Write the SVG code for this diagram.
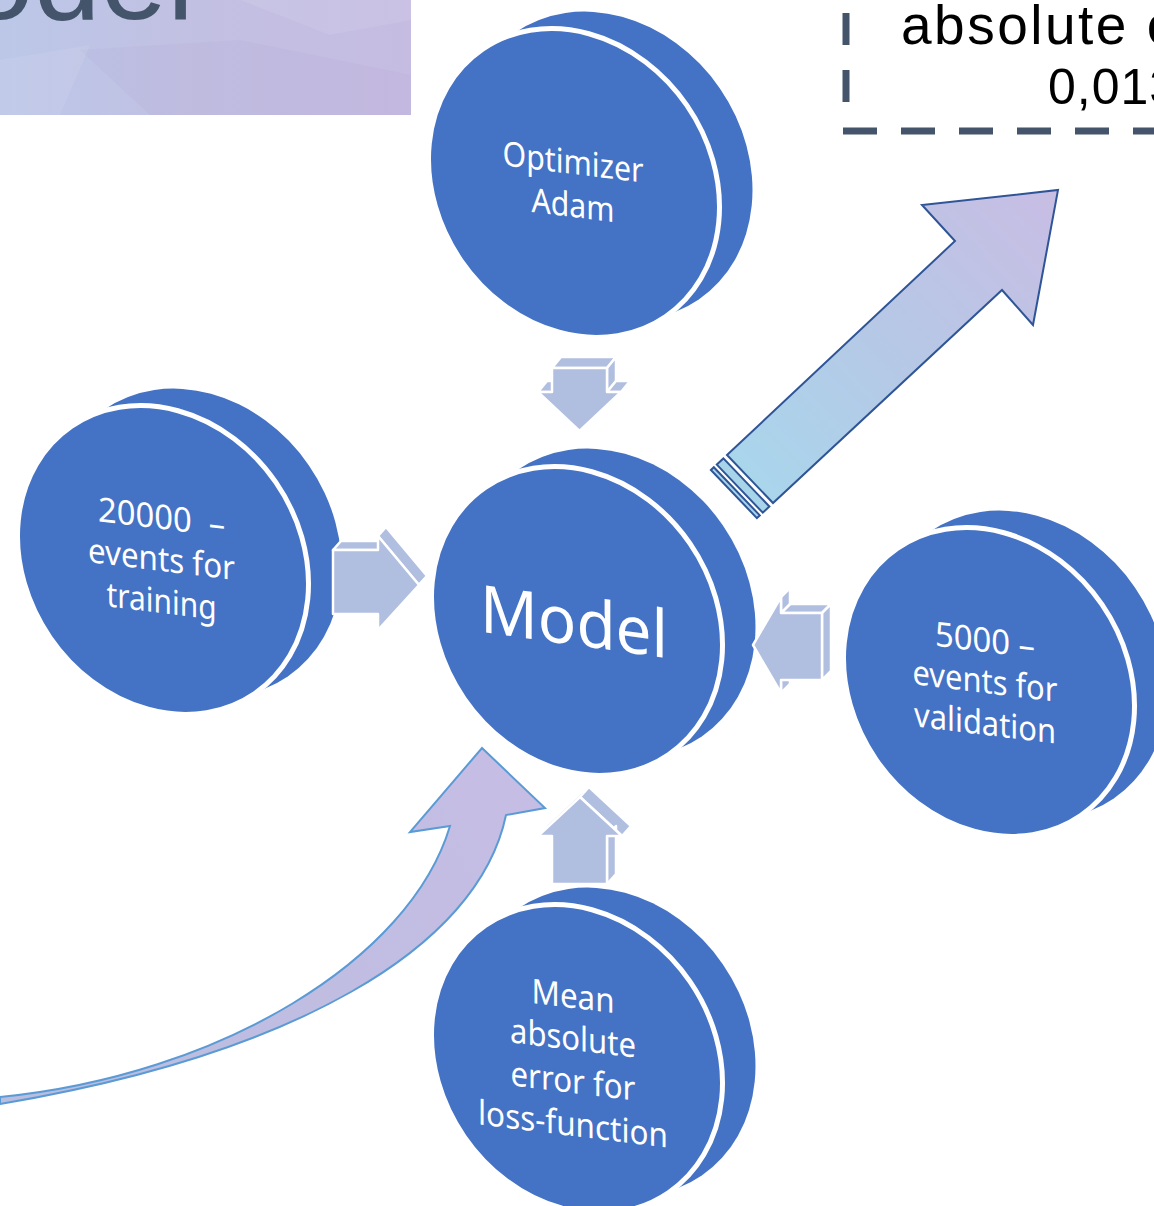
<svg xmlns="http://www.w3.org/2000/svg" xmlns:xlink="http://www.w3.org/1999/xlink" width="1154" height="1206" viewBox="0 0 1154 1206">
  <defs>
    <style>
      .disc-back{fill:#4472C4}
      .disc-front{fill:#4472C4;stroke:#FFFFFF;stroke-width:5}
      .disc-label{fill:#FFFFFF;font-family:"Noto Sans","Open Sans",sans-serif;font-size:34px;text-anchor:middle}
      .disc-title{fill:#FFFFFF;font-family:"Noto Sans","Open Sans",sans-serif;font-size:66px;text-anchor:middle}
      .block{fill:#B0BEE0}
      .block-face{fill:#B0BEE0;stroke:#FFFFFF;stroke-width:2.5;stroke-linejoin:round}
      .note-dash{fill:none;stroke:#44546A;stroke-width:7}
      .note-text{fill:#000000;font-family:"Liberation Sans",Arial,sans-serif}
    </style>
    <!-- tilted disc face, shared by every node -->
    <ellipse id="disc-face" cx="0" cy="0" rx="137" ry="162" transform="rotate(-34.5)"/>
    <linearGradient id="banner-fill" x1="0" y1="0" x2="1" y2="0">
      <stop offset="0" stop-color="#BCC7E8"/>
      <stop offset="0.5" stop-color="#C2C0E2"/>
      <stop offset="1" stop-color="#C6BCE2"/>
    </linearGradient>
    <linearGradient id="out-fill" gradientUnits="userSpaceOnUse" x1="745" y1="485" x2="1045" y2="205">
      <stop offset="0" stop-color="#A9D6EC"/>
      <stop offset="0.5" stop-color="#B6C8E6"/>
      <stop offset="1" stop-color="#C7BEE4"/>
    </linearGradient>
    <linearGradient id="loop-fill" gradientUnits="userSpaceOnUse" x1="0" y1="1100" x2="500" y2="780">
      <stop offset="0" stop-color="#B9BDDF"/>
      <stop offset="1" stop-color="#C6BDE4"/>
    </linearGradient>
  </defs>

  <rect width="1154" height="1206" fill="#FFFFFF"/>

  <!-- heading banner -->
  <g id="title">
    <rect x="0" y="0" width="411" height="115" fill="url(#banner-fill)"/>
    <polygon points="80,50 240,40 411,75 411,115 150,115" fill="#A99FCB" opacity="0.12"/>
    <polygon points="0,60 90,45 60,115 0,115" fill="#FFFFFF" opacity="0.08"/>
    <polygon points="240,0 330,35 411,20 411,0" fill="#FFFFFF" opacity="0.08"/>
    <text x="194" y="19" text-anchor="end" font-family="'Liberation Sans',Arial,sans-serif" font-size="120" fill="#44546A">Model</text>
  </g>

  <!-- result note with dashed frame -->
  <g id="result-note">
    <line class="note-dash" x1="846" y1="102" x2="846" y2="-10" stroke-dasharray="32 25"/>
    <line class="note-dash" x1="843" y1="131" x2="1160" y2="131" stroke-dasharray="34 24"/>
    <text class="note-text" x="901" y="44" font-size="55" letter-spacing="2.5">absolute e</text>
    <text class="note-text" x="1048" y="104" font-size="50" letter-spacing="1">0,013</text>
  </g>

  <!-- nodes -->
  <g id="node-optimizer" transform="translate(574,183)">
    <use xlink:href="#disc-face" class="disc-back" x="33" y="-17"/>
    <use xlink:href="#disc-face" class="disc-front"/>
    <g transform="translate(-1,0) skewY(7)">
      <text class="disc-label" x="0" y="-9" textLength="141" lengthAdjust="spacingAndGlyphs">Optimizer</text>
      <text class="disc-label" x="0" y="34" textLength="83" lengthAdjust="spacingAndGlyphs">Adam</text>
    </g>
  </g>

  <g id="node-training" transform="translate(163,560)">
    <use xlink:href="#disc-face" class="disc-back" x="33" y="-17"/>
    <use xlink:href="#disc-face" class="disc-front"/>
    <g transform="translate(-1.5,0) skewY(7)">
      <text class="disc-label" x="0" y="-31" xml:space="preserve" textLength="127" lengthAdjust="spacingAndGlyphs">20000  –</text>
      <text class="disc-label" x="0" y="11" textLength="147" lengthAdjust="spacingAndGlyphs">events for</text>
      <text class="disc-label" x="0" y="53" textLength="110" lengthAdjust="spacingAndGlyphs">training</text>
    </g>
  </g>

  <g id="node-validation" transform="translate(989,682)">
    <use xlink:href="#disc-face" class="disc-back" x="33" y="-17"/>
    <use xlink:href="#disc-face" class="disc-front"/>
    <g transform="translate(-4,0) skewY(7)">
      <text class="disc-label" x="0" y="-30" textLength="100" lengthAdjust="spacingAndGlyphs">5000 –</text>
      <text class="disc-label" x="0" y="11" textLength="145" lengthAdjust="spacingAndGlyphs">events for</text>
      <text class="disc-label" x="0" y="53" textLength="142" lengthAdjust="spacingAndGlyphs">validation</text>
    </g>
  </g>

  <g id="node-loss" transform="translate(577,1059)">
    <use xlink:href="#disc-face" class="disc-back" x="33" y="-17"/>
    <use xlink:href="#disc-face" class="disc-front"/>
    <g transform="translate(-4,0) skewY(7)">
      <text class="disc-label" x="0" y="-51" textLength="83" lengthAdjust="spacingAndGlyphs">Mean</text>
      <text class="disc-label" x="0" y="-9" textLength="126" lengthAdjust="spacingAndGlyphs">absolute</text>
      <text class="disc-label" x="0" y="34" textLength="125" lengthAdjust="spacingAndGlyphs">error for</text>
      <text class="disc-label" x="0" y="77" textLength="190" lengthAdjust="spacingAndGlyphs">loss-function</text>
    </g>
  </g>

  <g id="node-model" transform="translate(577,621)">
    <use xlink:href="#disc-face" class="disc-back" x="33" y="-18"/>
    <use xlink:href="#disc-face" class="disc-front"/>
    <g transform="translate(-3,0) skewY(8)">
      <text class="disc-title" x="0" y="24" textLength="188" lengthAdjust="spacingAndGlyphs">Model</text>
    </g>
  </g>

  <!-- connectors -->
  <g id="connectors">
    <!-- optimizer -> model (pointing down) -->
    <g id="edge-optimizer-model">
      <polygon class="block" points="561,357 616,357 616,381 630,381 588.5,420 547,381 561,381"/>
      <polygon class="block-face" points="552,368 607,368 616,357 561,357"/>
      <polygon class="block-face" points="607,368 616,357 616,381 607,392"/>
      <polygon class="block-face" points="607,392 621,392 630,381 616,381"/>
      <polygon class="block-face" points="538,392 552,392 561,381 547,381"/>
      <polygon class="block-face" points="552,368 607,368 607,392 621,392 579.5,431 538,392 552,392"/>
    </g>
    <!-- training -> model (pointing right) -->
    <g id="edge-training-model">
      <polygon class="block" points="341,541 386,541 386,527 427,576 386,621 386,605 341,605"/>
      <polygon class="block-face" points="333,550 378,550 386,541 341,541"/>
      <polygon class="block-face" points="378,536 419,585 427,576 386,527"/>
      <polygon class="block-face" points="419,585 378,630 386,621 427,576"/>
      <polygon class="block-face" points="333,550 378,550 378,536 419,585 378,630 378,614 333,614"/>
    </g>
    <!-- validation -> model (pointing left) -->
    <g id="edge-validation-model">
      <polygon class="block" points="831,604 790,604 790,588 762,636 790,684 790,671 831,671"/>
      <polygon class="block-face" points="781,613 822,613 831,604 790,604"/>
      <polygon class="block-face" points="822,613 831,604 831,671 822,680"/>
      <polygon class="block-face" points="781,597 781,613 790,604 790,588"/>
      <polygon class="block-face" points="781,680 781,693 790,684 790,671"/>
      <polygon class="block-face" points="822,613 781,613 781,597 753,645 781,693 781,680 822,680"/>
    </g>
    <!-- loss -> model (pointing up) -->
    <g id="edge-loss-model">
      <polygon class="block" points="589,787 631,826 616,826 616,874 561,874 561,826 547,826"/>
      <polygon class="block-face" points="580,797 622,836 631,826 589,787"/>
      <polygon class="block-face" points="607,836 607,884 616,874 616,826"/>
      <polygon class="block-face" points="580,797 622,836 607,836 607,884 552,884 552,836 538,836"/>
    </g>
    <!-- model -> result (large outgoing arrow) -->
    <g id="edge-model-result" stroke="#2F5597" stroke-width="2" stroke-linejoin="miter">
      <polygon points="716.8,464.6 723.4,458.4 769.4,506.5 762.8,512.7" fill="#A8D4EA"/>
      <polygon points="710.9,470.0 713.8,467.2 759.8,515.4 756.9,518.1" fill="#A8D4EA"/>
      <polygon points="727,455 955,241 922,205 1058,190 1033,325 1002,290 773,503" fill="url(#out-fill)"/>
    </g>
    <!-- feedback into model (curved arrow) -->
    <g id="edge-feedback-model">
      <path d="M 0 1097 C 220 1075 410 960 450 826 L 410 832 L 482 748 L 545 808 L 506 815 C 478 950 290 1055 0 1104 Z" fill="url(#loop-fill)" stroke="#5B9BD5" stroke-width="2" stroke-linejoin="miter"/>
    </g>
  </g>
</svg>
